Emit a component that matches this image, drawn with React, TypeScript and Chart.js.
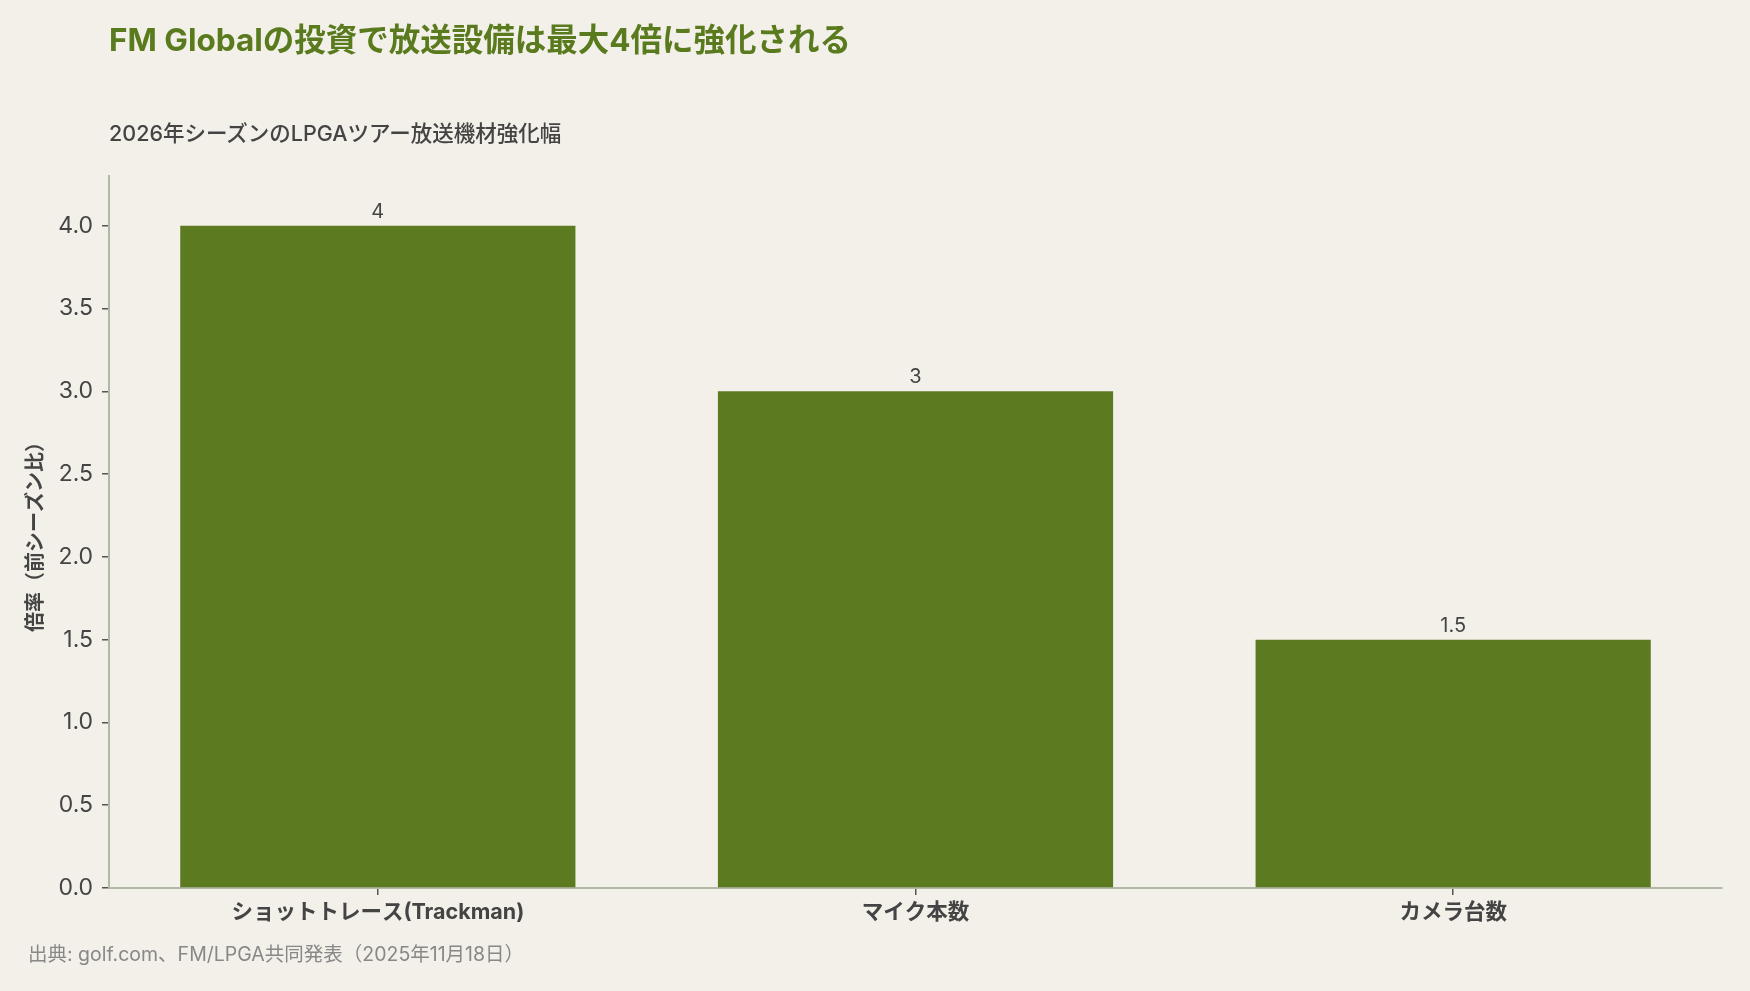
import { useEffect, useRef } from 'react';
import { Chart, registerables } from 'chart.js';
import type { Plugin } from 'chart.js';

Chart.register(...registerables);

const FONT = 'Inter, "Noto Sans CJK JP", sans-serif';

const categories = ['ショットトレース(Trackman)', 'マイク本数', 'カメラ台数'];
const multipliers = [4, 3, 1.5];
const yTicks = [0, 0.5, 1.0, 1.5, 2.0, 2.5, 3.0, 3.5, 4.0];

const barGreen = '#5c7a20';
const axisColor = '#b1b8a5';
const textColor = '#444444';

// numbers drawn above each bar
const valueLabels: Plugin<'bar'> = {
    id: 'valueLabels',
    afterDatasetsDraw(chart) {
        const { ctx } = chart;
        const meta = chart.getDatasetMeta(0);
        ctx.save();
        ctx.font = `20px ${FONT}`;
        ctx.fillStyle = textColor;
        ctx.textAlign = 'center';
        ctx.textBaseline = 'alphabetic';
        meta.data.forEach((bar, i) => {
            ctx.fillText(String(multipliers[i]), bar.x, bar.y - 8);
        });
        ctx.restore();
    },
};

export default function App() {
    const chartRef = useRef<HTMLCanvasElement>(null);
    const chartInstance = useRef<Chart | null>(null);

    useEffect(() => {
        document.body.style.margin = '0';
        if (chartRef.current) {
            chartInstance.current?.destroy();
            const ctx = chartRef.current.getContext('2d');
            if (ctx) {
                chartInstance.current = new Chart(ctx, {
                    type: 'bar',
                    data: {
                        labels: categories,
                        datasets: [
                            {
                                label: '倍率',
                                data: multipliers,
                                backgroundColor: barGreen,
                                categoryPercentage: 1,
                                barPercentage: 0.735,
                            },
                        ],
                    },
                    options: {
                        animation: false,
                        responsive: false,
                        maintainAspectRatio: false,
                        layout: {
                            padding: { top: 176, right: 28, left: 0, bottom: 0 },
                        },
                        plugins: {
                            legend: { display: false },
                            tooltip: { enabled: false },
                        },
                        scales: {
                            x: {
                                afterFit: (scale) => {
                                    scale.height = 103;
                                },
                                grid: {
                                    display: true,
                                    drawOnChartArea: false,
                                    drawTicks: true,
                                    tickLength: 7,
                                    offset: false,
                                    color: '#555555',
                                    lineWidth: 1.5,
                                },
                                border: { display: true, color: axisColor, width: 2 },
                                ticks: {
                                    color: textColor,
                                    padding: 5,
                                    font: { family: FONT, size: 21.5, weight: 'bold' },
                                },
                            },
                            y: {
                                min: 0,
                                max: 4.3,
                                afterFit: (scale) => {
                                    scale.width = 109;
                                },
                                afterBuildTicks: (scale) => {
                                    scale.ticks = yTicks.map((v) => ({ value: v }));
                                },
                                grid: {
                                    display: true,
                                    drawOnChartArea: false,
                                    drawTicks: true,
                                    tickLength: 7,
                                    color: '#555555',
                                    lineWidth: 1.5,
                                },
                                border: { display: true, color: axisColor, width: 2 },
                                ticks: {
                                    color: textColor,
                                    padding: 9,
                                    font: { family: FONT, size: 23 },
                                    callback: (v) => Number(v).toFixed(1),
                                },
                                title: {
                                    display: true,
                                    text: '倍率（前シーズン比）',
                                    color: textColor,
                                    padding: { top: 24, bottom: 0 },
                                    font: { family: FONT, size: 20, weight: 'bold' },
                                },
                            },
                        },
                    },
                    plugins: [valueLabels],
                });
            }
        }

        return () => {
            chartInstance.current?.destroy();
            chartInstance.current = null;
        };
    }, []);

    return (
        <div
            style={{
                position: 'relative',
                width: 1750,
                height: 991,
                background: '#f3f0e9',
                fontFamily: FONT,
                overflow: 'hidden',
            }}
        >
            <canvas
                ref={chartRef}
                width={1750}
                height={991}
                style={{ position: 'absolute', left: 0, top: 0, width: 1750, height: 991 }}
            />
            <div
                style={{
                    position: 'absolute',
                    left: 109,
                    top: 24,
                    fontSize: 31.5,
                    lineHeight: 1,
                    fontWeight: 'bold',
                    color: '#5a7a1e',
                    whiteSpace: 'nowrap',
                }}
            >
                FM Globalの投資で放送設備は最大4倍に強化される
            </div>
            <div
                style={{
                    position: 'absolute',
                    left: 109,
                    top: 123,
                    fontSize: 21.5,
                    lineHeight: 1,
                    fontWeight: 500,
                    color: textColor,
                    whiteSpace: 'nowrap',
                }}
            >
                2026年シーズンのLPGAツアー放送機材強化幅
            </div>
            <div
                style={{
                    position: 'absolute',
                    left: 28,
                    top: 945,
                    fontSize: 19.5,
                    lineHeight: 1,
                    color: '#888888',
                    whiteSpace: 'nowrap',
                }}
            >
                出典: golf.com、FM/LPGA共同発表（2025年11月18日）
            </div>
        </div>
    );
}
